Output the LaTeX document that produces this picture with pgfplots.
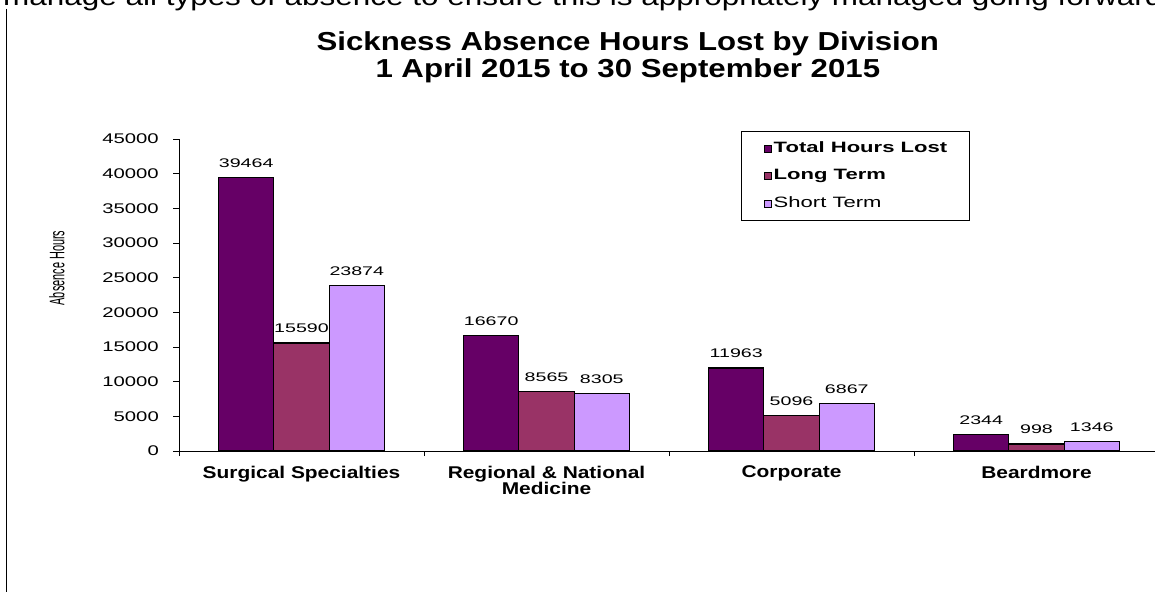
\documentclass[border=0pt]{standalone}
\usepackage{pgfplots}
\pgfplotsset{compat=1.18}
\usepackage{fontspec}
\setmainfont{Liberation Sans}
\newfontfamily\titlefont{Liberation Sans}[FakeStretch=1.2]
\newfontfamily\topfont{Liberation Sans}[FakeStretch=1.21]
\newfontfamily\tickfont{Liberation Sans}[FakeStretch=1.45]
\newfontfamily\catfont{Liberation Sans}[FakeStretch=1.23]
\newfontfamily\datafont{Liberation Sans}[FakeStretch=1.57]
\newfontfamily\legfont{Liberation Sans}[FakeStretch=1.47]
\newfontfamily\ylabfont{Liberation Sans}[FakeStretch=0.52]
\definecolor{cTotal}{HTML}{660066}
\definecolor{cLong}{HTML}{993366}
\definecolor{cShort}{HTML}{CC99FF}
\pgfplotstableread{
x total long short
0 39464 15590 23874
1 16670 8565 8305
2 11963 5096 6867
3 2344 998 1346
}\datatable
\begin{document}
\begin{tikzpicture}[x=1pt,y=1pt]
\useasboundingbox (0,0) rectangle (1155,592);
\clip (0,0) rectangle (1155,592);
\fill[white] (0,0) rectangle (1155,592);
\node[anchor=base west,inner sep=0pt,font=\topfont\fontsize{26}{28}\selectfont] at (3,586.5) {manage all types of absence to ensure this is appropriately managed going forward};
\draw[line width=1pt] (6,583) -- (6,0);
\begin{axis}[
  at={(179pt,141pt)}, anchor=south west,
  scale only axis, width=980pt, height=312pt,
  xmin=-0.5, xmax=3.5, ymin=0, ymax=45000,
  axis lines*=left,
  axis line style={line width=0.9pt},
  ybar, bar width=0.2257,
  xtick={0,1,2,3},
  xticklabels={Surgical Specialties, {Regional \& National\\Medicine}, Corporate, Beardmore},
  every major x tick/.append style={draw=none},
  minor xtick={-0.5,0.5,1.5,2.5,3.5},
  minor tick length=5pt,
  major tick length=6pt,
  tick align=outside,
  tick style={black, line width=0.9pt},
  ytick={0,5000,...,45000},
  scaled y ticks=false,
  /pgf/number format/set thousands separator={},
  /pgf/number format/assume math mode=true,
  yticklabel style={font=\tickfont\fontsize{14}{16}\selectfont, anchor=east, inner sep=0pt, xshift=-14pt},
  xticklabel style={font=\catfont\bfseries\fontsize{17}{16.7}\selectfont, align=center, anchor=north, inner sep=0pt, yshift=-8.5pt},
  title={Sickness Absence Hours Lost by Division\\ 1 April 2015 to 30 September 2015},
  title style={font=\titlefont\bfseries\fontsize{26}{27}\selectfont, align=center, at={(axis description cs:0.458,1.327)}, anchor=north, inner sep=0pt},
  ylabel={Absence Hours},
  ylabel style={font=\ylabfont\fontsize{21}{22}\selectfont, at={(axis description cs:-0.1245,0.5865)}, anchor=center, inner sep=0pt},
  nodes near coords,
  every node near coord/.append style={font=\datafont\fontsize{12.5}{13}\selectfont, inner sep=0pt, anchor=south, yshift=9.5pt, black},
  legend style={at={(rel axis cs:0.5735,1.0256)}, anchor=north west, draw=black, line width=1.3pt, inner xsep=22pt, inner ysep=10pt, row sep=12.8pt, column sep=2pt,
    nodes={inner sep=0pt, text height=11pt, text depth=3.5pt, font=\legfont\fontsize{15}{16}\selectfont}},
  legend cell align=left,
  legend image code/.code={\draw[#1, draw=black, line width=1pt] (0pt,-3.5pt) rectangle (7pt,3.5pt);},
]
\addplot[fill=cTotal, draw=black, line width=1.2pt, bar shift=-0.2257] table[x=x,y=total]{\datatable};
\addlegendentry{\bfseries Total Hours Lost}
\addplot[fill=cLong, draw=black, line width=1.2pt, bar shift=0] table[x=x,y=long]{\datatable};
\addlegendentry{\bfseries Long Term}
\addplot[fill=cShort, draw=black, line width=1.2pt, bar shift=0.2257] table[x=x,y=short]{\datatable};
\addlegendentry{Short Term}
\end{axis}
\end{tikzpicture}
\end{document}
